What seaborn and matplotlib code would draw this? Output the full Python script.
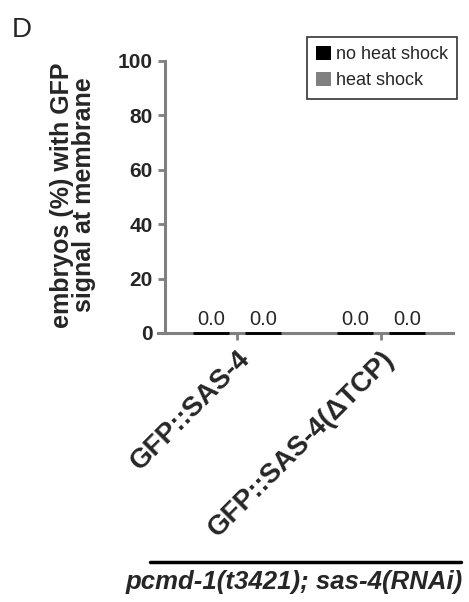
import matplotlib
matplotlib.use("Agg")
import matplotlib.pyplot as plt
import seaborn as sns
import pandas as pd

categories = ["GFP::SAS-4", "GFP::SAS-4(ΔTCP)"]
conditions = ["no heat shock", "heat shock"]
no_heat_shock = [0.0, 0.0]
heat_shock = [0.0, 0.0]
yticks = [0, 20, 40, 60, 80, 100]
ylabel = "embryos (%) with GFP\nsignal at membrane"
panel = "D"
genotype = "pcmd-1(t3421); sas-4(RNAi)"

df = pd.DataFrame({
    "category": categories * 2,
    "condition": [conditions[0]] * 2 + [conditions[1]] * 2,
    "value": no_heat_shock + heat_shock,
})

sns.set_style("white")
plt.rcParams["font.family"] = ["Liberation Sans", "DejaVu Sans"]

W, H = 469, 602
fig = plt.figure(figsize=(W / 100, H / 100), dpi=100)
ax = fig.add_axes([165 / W, 1 - 333 / H, 288 / W, 272 / H])

sns.barplot(data=df, x="category", y="value", hue="condition",
            order=categories, hue_order=conditions,
            palette=["#000000", "#808080"], width=0.72, gap=0.29,
            edgecolor="black", linewidth=2.0, ax=ax)

for p in ax.patches:
    p.set_clip_on(False)
    p.set_zorder(5)

for c in ax.containers:
    ax.bar_label(c, fmt="%.1f", fontsize=14.5, padding=3)

ax.set_xlim(-0.5, 1.5)
ax.set_ylim(0, 100)
ax.set_yticks(yticks)
ax.set_yticklabels([str(t) for t in yticks], fontsize=15, fontweight="bold")
ax.set_xticks(range(len(categories)))
ax.set_xticklabels(categories, fontsize=20, fontweight="bold", rotation=45,
                   ha="right", va="top", rotation_mode="anchor")
ax.set_xlabel("")
ax.set_ylabel("")

for s in ["top", "right"]:
    ax.spines[s].set_visible(False)
for s in ["left", "bottom"]:
    ax.spines[s].set_color("#808080")
    ax.spines[s].set_linewidth(2.2)
ax.spines["bottom"].set_bounds(-0.55, 1.5)
ax.tick_params(axis="both", which="both", direction="out", length=5, width=2,
               color="#808080", left=True, bottom=True)
ax.tick_params(axis="y", pad=4)
ax.tick_params(axis="x", pad=4)

leg = ax.legend(loc="upper right", bbox_to_anchor=(1.014, 1.088), fontsize=13,
                frameon=True, fancybox=False, edgecolor="black",
                handlelength=0.85, handleheight=0.8, handletextpad=0.25,
                borderpad=0.5, labelspacing=0.5, borderaxespad=0)
leg.get_frame().set_linewidth(1.2)
for h in leg.legend_handles:
    h.set_edgecolor("none")

fig.text(73 / W, 1 - 195 / H, ylabel, fontsize=18, fontweight="bold",
         rotation=90, ha="center", va="center", multialignment="center",
         linespacing=0.92)
fig.text(12 / W, 1 - 17 / H, panel, fontsize=20, va="top", ha="left")
fig.add_artist(plt.Line2D([150 / W, 461 / W], [1 - 562 / H, 1 - 562 / H],
                          transform=fig.transFigure, color="black", linewidth=2.5))
fig.text(294 / W, 1 - 582 / H, genotype, fontsize=18.5, fontweight="bold",
         fontstyle="italic", ha="center", va="center")

fig.savefig("out.png", dpi=100)
